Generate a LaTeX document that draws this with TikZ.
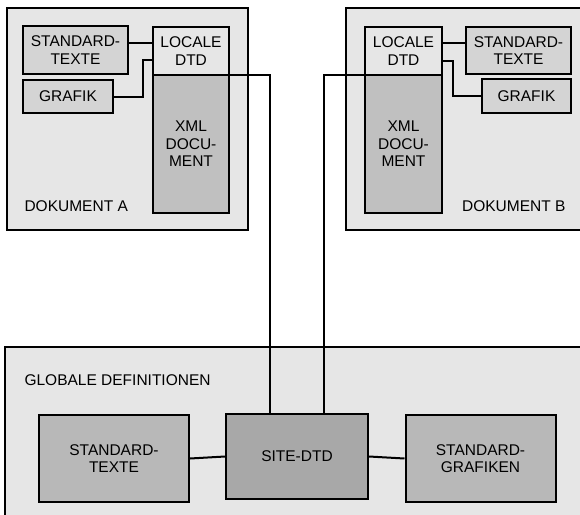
\documentclass[tikz,border=0pt]{standalone}
\usepackage{fontspec}
\setmainfont{Liberation Sans}
\usepackage{xcolor}
\usetikzlibrary{positioning, calc}
\definecolor{panelgray}{RGB}{230,230,230}
\definecolor{partgray}{RGB}{212,212,212}
\definecolor{docgray}{RGB}{192,192,192}
\definecolor{globgray}{RGB}{184,184,184}
\definecolor{sitegray}{RGB}{168,168,168}

\begin{document}
\begin{tikzpicture}[
    x=1pt, y=-1pt,
    font=\fontsize{15.5}{17.5}\selectfont,
    panel/.style={rectangle, draw, line width=2pt, fill=panelgray, inner sep=0pt},
    part/.style={rectangle, draw, line width=2pt, fill=partgray, align=center, inner sep=0pt},
    dtdbox/.style={rectangle, draw, line width=2pt, fill=panelgray, align=center, inner sep=0pt, outer sep=0pt},
    docbox/.style={rectangle, draw, line width=2pt, fill=docgray, align=center, inner sep=0pt, outer sep=0pt},
    globbox/.style={rectangle, draw, line width=2pt, fill=globgray, align=center, inner sep=0pt, minimum width=150pt, minimum height=87pt},
    link/.style={line width=2pt}
]
\useasboundingbox (0,0) rectangle (580,514);

% Outer panels
\node[panel, minimum width=241pt, minimum height=222pt] (docA) at (127.5,119) {};
\node[panel, minimum width=236pt, minimum height=222pt] (docB) at (464,119) {};
\node[panel, minimum width=577pt, minimum height=169pt] (glob) at (293.5,431.5) {};

% Panel captions
\node[anchor=west] (capA) at (21,206) {DOKUMENT A};
\node[anchor=east] (capB) at (569,206) {DOKUMENT B};
\node[anchor=west] (capG) at (21,380) {GLOBALE DEFINITIONEN};

% Dokument A
\node[part, minimum width=105pt, minimum height=48pt] (stA) at (75.5,50) {STANDARD-\\TEXTE};
\node[part, minimum width=90pt, minimum height=33pt] (grA) at (68,96.5) {GRAFIK};
\node[dtdbox, minimum width=76pt, minimum height=48pt] (locA) at (191,51) {LOCALE\\DTD};
\node[docbox, minimum width=76pt, minimum height=138pt, below=0pt of locA] (xmlA) {XML\\DOCU-\\MENT};

% Dokument B
\node[dtdbox, minimum width=77pt, minimum height=48pt] (locB) at (403.5,51) {LOCALE\\DTD};
\node[docbox, minimum width=77pt, minimum height=138pt, below=0pt of locB] (xmlB) {XML\\DOCU-\\MENT};
\node[part, minimum width=105pt, minimum height=47pt] (stB) at (518.5,50.5) {STANDARD-\\TEXTE};
\node[part, minimum width=89pt, minimum height=34pt] (grB) at (526.5,96) {GRAFIK};

% Globale Definitionen
\node[globbox] (stG) at (114,458.5) {STANDARD-\\TEXTE};
\node[globbox, fill=sitegray, minimum width=142pt, minimum height=85pt] (site) at (297,456.5) {SITE-DTD};
\node[globbox] (grG) at (480.5,458.5) {STANDARD-\\GRAFIKEN};

% Links inside the documents
\draw[link] ([yshift=7pt]stA.east) -- ([yshift=7pt]stA.east -| locA.west);
\draw[link] (grA.east) -- ++(29,0) |- ([yshift=-9pt]locA.west);
\draw[link] ([yshift=8pt]locB.east) -- ([yshift=8pt]locB.east -| stB.west);
\draw[link] ([yshift=-10pt]locB.east) -- ++(11,0) |- (grB.west);

% Links to the site DTD
\draw[link] (locA.south west) -| ([xshift=-27pt]site.north);
\draw[link] (locB.south east) -| ([xshift=27pt]site.north);
\draw[link] (stG.east) -- (site.west);
\draw[link] (site.east) -- (grG.west);

\end{tikzpicture}
\end{document}
